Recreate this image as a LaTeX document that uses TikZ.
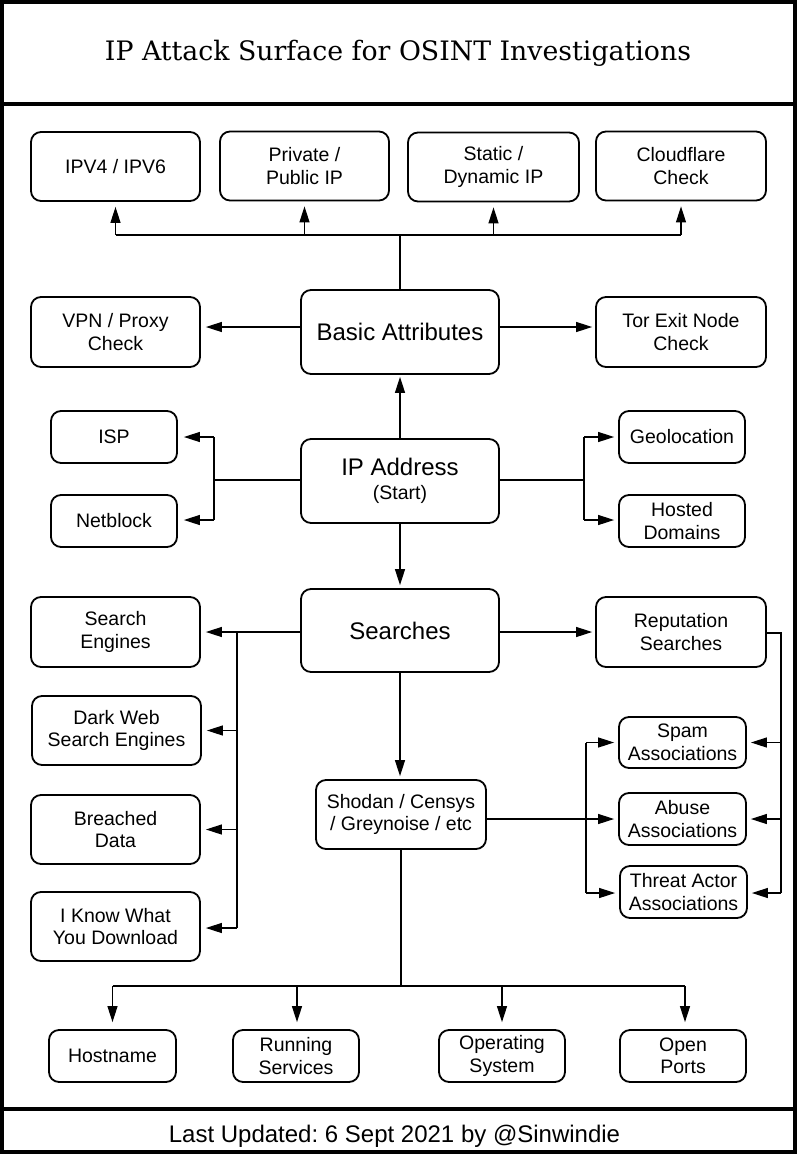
\documentclass[tikz,border=0pt]{standalone}
\usepackage{fontspec}
\setmainfont{Liberation Sans}
\newfontfamily\titlefont{DejaVu Serif}
\usetikzlibrary{arrows.meta}
\frenchspacing
\begin{document}
\begin{tikzpicture}[x=1pt,y=-1pt,
  box/.style={draw, line width=1.8pt, rounded corners=10pt, align=center, inner sep=0pt, fill=white, font=\fontsize{19.5}{22.5}\selectfont},
  bigbox/.style={box, font=\fontsize{24}{26}\selectfont},
  con/.style={line width=1.2pt},
  arr/.style={con, -{Triangle[length=16pt,width=10pt]}, shorten >=4pt},
  frame/.style={line width=4pt},
]
\useasboundingbox (0,0) rectangle (797,1154);
\draw[frame] (2,2) rectangle (795,1152);
\draw[frame] (0,104) -- (797,104);
\draw[frame] (0,1109) -- (797,1109);
\node[anchor=base] (title) at (398,60) {\resizebox{586pt}{!}{\titlefont IP Attack Surface for OSINT Investigations}};
\node[anchor=base, font=\fontsize{24}{26}\selectfont] (foot) at (394.5,1142) {Last Updated: 6 Sept 2021 by @Sinwindie};

% top row
\node[box, minimum width=169pt, minimum height=69pt] (ipv) at (115.5,166.5) {IPV4 / IPV6};
\node[box, minimum width=169pt, minimum height=69pt] (priv) at (304.5,166) {Private /\\Public IP};
\node[box, minimum width=171pt, minimum height=69pt] (stat) at (493.5,167) {Static /\\Dynamic IP};
\node[box, minimum width=170pt, minimum height=69pt] (cloud) at (681,166) {Cloudflare\\Check};

\node[box, minimum width=169pt, minimum height=70pt] (vpn) at (115.5,332) {VPN / Proxy\\Check};
\node[bigbox, minimum width=198pt, minimum height=84pt] (basic) at (400,332) {Basic Attributes};
\node[box, minimum width=170pt, minimum height=70pt] (tor) at (681,332) {Tor Exit Node\\Check};

\node[box, minimum width=126pt, minimum height=52pt] (isp) at (114,437) {ISP};
\node[box, minimum width=126pt, minimum height=52pt] (net) at (114,521) {Netblock};
\node[bigbox, minimum width=198pt, minimum height=84pt] (ip) at (400,481) {IP Address\\[-2pt]{\fontsize{19.5}{22}\selectfont (Start)}};
\node[box, minimum width=126pt, minimum height=52pt] (geo) at (682,437) {Geolocation};
\node[box, minimum width=126pt, minimum height=52pt] (hostd) at (682,521) {Hosted\\Domains};

\node[bigbox, minimum width=198pt, minimum height=83pt] (search) at (400,630.5) {Searches};
\node[box, minimum width=169pt, minimum height=70pt] (se) at (115.5,632) {Search\\Engines};
\node[box, minimum width=169pt, minimum height=69pt] (dw) at (116.5,730.5) {Dark Web\\Search Engines};
\node[box, minimum width=169pt, minimum height=69pt] (bd) at (115.5,829.5) {Breached\\Data};
\node[box, minimum width=169pt, minimum height=69pt] (ik) at (115.5,926.5) {I Know What\\You Download};
\node[box, minimum width=170pt, minimum height=70pt] (rep) at (681,632) {Reputation\\Searches};
\node[box, minimum width=127pt, minimum height=51pt] (spam) at (682.5,742.5) {Spam\\Associations};
\node[box, minimum width=127pt, minimum height=52pt] (abuse) at (682.5,819) {Abuse\\Associations};
\node[box, minimum width=127pt, minimum height=52pt] (threat) at (683.5,892) {Threat Actor\\Associations};
\node[box, minimum width=170pt, minimum height=69pt] (shodan) at (401,814.5) {Shodan / Censys\\/ Greynoise / etc};

\node[box, minimum width=127pt, minimum height=52pt] (hn) at (112.5,1056) {Hostname};
\node[box, minimum width=126pt, minimum height=52pt] (rs) at (296,1056) {Running\\Services};
\node[box, minimum width=126pt, minimum height=52pt] (os) at (502,1056) {Operating\\System};
\node[box, minimum width=126pt, minimum height=52pt] (op) at (683,1056) {Open\\Ports};

% connectors: basic attributes
\coordinate (tb) at (400,235);
\draw[con] (basic.north) -- (tb);
\draw[con] (ipv.south |- tb) -- (cloud.south |- tb);
\foreach \n in {ipv,priv,stat,cloud} \draw[arr, shorten >=5pt] (\n.south |- tb) -- (\n.south);
\draw[arr, shorten >=5pt] ([yshift=5pt]basic.west) -- ([yshift=5pt]vpn.east);
\draw[arr, shorten >=3pt] ([yshift=5pt]basic.east) -- ([yshift=5pt]tor.west);
\draw[arr, shorten >=2pt] (ip.north) -- (basic.south);

% ip address sides
\coordinate (lj) at (214,480);
\draw[con] ([yshift=1pt]ip.west) -- (lj);
\draw[con] (lj |- isp) -- ([yshift=1pt]lj |- net);
\draw[arr, shorten >=6pt] (lj |- isp) -- (isp.east);
\draw[arr, shorten >=6pt] ([yshift=1pt]lj |- net) -- ([yshift=1pt]net.east);
\coordinate (rj) at (584,480);
\draw[con] ([yshift=1pt]ip.east) -- (rj);
\draw[con] (rj |- geo) -- ([yshift=1pt]rj |- hostd);
\draw[arr] (rj |- geo) -- (geo.west);
\draw[arr] ([yshift=1pt]rj |- hostd) -- ([yshift=1pt]hostd.west);
\draw[arr, shorten >=3pt] (ip.south) -- (search.north);

% searches
\coordinate (sj) at (237,632);
\draw[arr, shorten >=5pt] (search.west |- se) -- (se.east);
\draw[con] (sj) -- ([yshift=-1.5pt]sj |- ik.east);
\draw[arr, shorten >=5pt] (sj |- dw.east) -- (dw.east);
\draw[arr, shorten >=5pt] (sj |- bd.east) -- (bd.east);
\draw[arr, shorten >=5pt] ([yshift=-1.5pt]sj |- ik.east) -- ([yshift=-1.5pt]ik.east);
\draw[arr, shorten >=3pt] (search.east |- rep) -- (rep.west);
\draw[arr, shorten >=3pt] (search.south) -- (search.south |- shodan.north);

% reputation bus
\coordinate (rb) at (781,633);
\draw[con] ([yshift=-1pt]rep.east) -- (rb) -- ([yshift=-1pt]rb |- threat.east);
\draw[arr] (rb |- spam.east) -- (spam.east);
\draw[arr] (rb |- abuse.east) -- (abuse.east);
\draw[arr] ([yshift=-1pt]rb |- threat.east) -- ([yshift=-1pt]threat.east);

% shodan bus
\coordinate (shb) at (586,819);
\draw[arr] (shodan.east |- abuse.west) -- (abuse.west);
\draw[con] (shb |- spam.west) -- ([yshift=-1pt]shb |- threat.west);
\draw[arr] (shb |- spam.west) -- (spam.west);
\draw[arr] ([yshift=-1pt]shb |- threat.west) -- ([yshift=-1pt]threat.west);

\coordinate (bb) at (401,986);
\draw[con] (shodan.south) -- (bb);
\draw[con] (hn.north |- bb) -- ([xshift=2pt]op.north |- bb);
\draw[arr, shorten >=7pt] (hn.north |- bb) -- (hn.north);
\draw[arr, shorten >=7pt] ([xshift=1pt]rs.north |- bb) -- ([xshift=1pt]rs.north);
\draw[arr, shorten >=7pt] (os.north |- bb) -- (os.north);
\draw[arr, shorten >=7pt] ([xshift=2pt]op.north |- bb) -- ([xshift=2pt]op.north);
\end{tikzpicture}
\end{document}
